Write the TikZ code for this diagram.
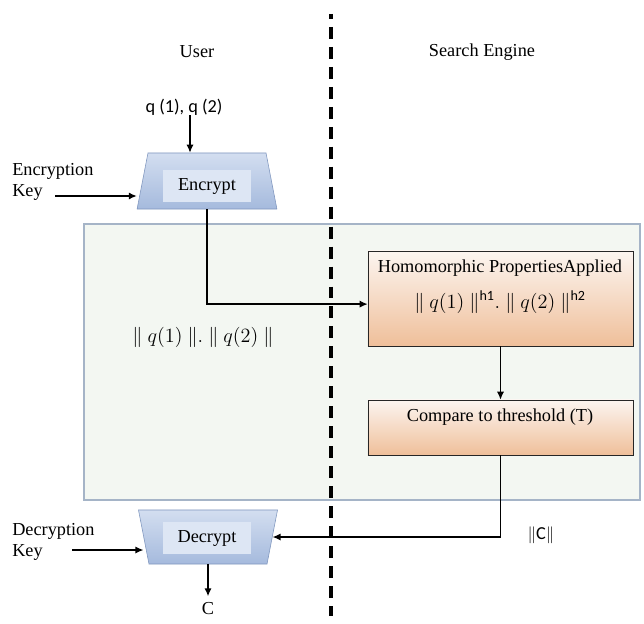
\documentclass[tikz,border=0pt]{standalone}
\usepackage{amsmath}
\usepackage{fontspec}
\setmainfont{Liberation Serif}
\newfontfamily\calfont{Carlito}
\usetikzlibrary{arrows.meta,positioning,shapes.geometric}
\definecolor{keytop}{HTML}{D3DEF0}
\definecolor{keyblue}{HTML}{A5BADD}
\definecolor{keyinner}{HTML}{DDE6F4}
\definecolor{keyedge}{HTML}{7F96BE}
\definecolor{peachtop}{HTML}{FCF5F0}
\definecolor{peach}{HTML}{EFBF9A}
\definecolor{zonefill}{HTML}{F3F7F2}
\definecolor{zoneedge}{HTML}{A5B4C7}
\tikzset{
  txt/.style={font=\fontsize{13}{14.5}\selectfont, inner sep=0pt},
  mathtxt/.style={font=\fontsize{14.4}{16}\selectfont, inner sep=0pt},
  sanstxt/.style={font=\calfont\fontsize{13}{14.5}\selectfont, inner sep=0pt},
  crypt/.style={trapezium, trapezium angle=79, draw=keyedge, top color=keytop, bottom color=keyblue, text width=2.95cm, inner sep=0pt},
  cryptin/.style={rectangle, fill=keyinner, minimum width=2.2cm, minimum height=0.78cm, inner sep=0pt, font=\fontsize{13}{14.5}\selectfont},
  proc/.style={rectangle, draw=black!85, top color=peachtop, bottom color=peach, minimum width=6.625cm},
  zone/.style={draw=zoneedge, fill=zonefill, line width=0.8pt},
  arr/.style={-{Latex[length=2mm,width=1.8mm]}, line width=1pt},
  divider/.style={line width=2.8pt, dash pattern=on 8.5pt off 5.7pt, dash phase=5pt}
}

\begin{document}
\begin{tikzpicture}[x=0.025cm, y=-0.025cm]
\useasboundingbox (0,0) rectangle (644,624);
\fill[white] (0,0) rectangle (644,624);

% shared area
\draw[zone] (84,224) rectangle (640,500);
\coordinate (divtop) at (331,14);
\coordinate (divbot) at (331,616);
\draw[divider] (divtop) -- (divbot);

\node[txt] (user) at (197,52) {User};
\node[txt] (engine) at (482,52) {Search Engine};

% user side
\node[sanstxt] (qin) at (184,107) {q (1), q (2)};
\node[crypt, text height=0.7cm, text depth=0.7cm] (enc) at (207,181) {};
\node[cryptin] (enctxt) at (207,186) {Encrypt};
\node[txt, align=left, anchor=west] (ekey) at (12,182) {Encryption\\Key};
\coordinate (ekin) at (55,196);

\node[mathtxt] (norms) at (203,337) {\(\|\ q(1)\ \|.\ \|\ q(2)\ \|\)};

\node[crypt, shape border rotate=180, text height=0.675cm, text depth=0.675cm] (dec) at (208,537) {};
\node[cryptin] (dectxt) at (207,538) {Decrypt};
\node[txt, align=left, anchor=west] (dkey) at (12,542) {Decryption\\Key};
\coordinate (dkin) at (72,550);
\node[txt, inner sep=0.15cm, below=0.8cm of dec] (cout) {C};

% search engine side
\node[proc, minimum height=2.375cm] (homo) at (500.5,298.5) {};
\node[txt] (homotxt) at (500,268) {Homomorphic PropertiesApplied};
\node[mathtxt] (homomath) at (500,302) {\(\|\ q(1)\ \|^{\text{\calfont h1}}.\ \|\ q(2)\ \|^{\text{\calfont h2}}\)};
\node[proc, minimum height=1.375cm] (comp) at (500.5,427.5) {};
\node[txt] (comptxt) at (500,417) {Compare to threshold (T)};
\node[sanstxt] (cnorm) at (541,535) {\(\|\)C\(\|\)};

\draw[arr] ([xshift=0.15cm]qin.south) -- ([xshift=0.15cm]qin.south |- enc.north);
\draw[arr] (ekin) -- (ekin -| enc.bottom left corner);
\draw[arr] (enc.south) |- ([yshift=-0.14cm]homo.west);
\draw[arr] (homo.south) -- (comp.north);
\draw[arr] (comp.south) |- (dec.east);
\draw[arr] (dkin) -- (dkin -| dec.west);
\draw[arr] (dec.south) -- (cout.north);
\end{tikzpicture}
\end{document}
